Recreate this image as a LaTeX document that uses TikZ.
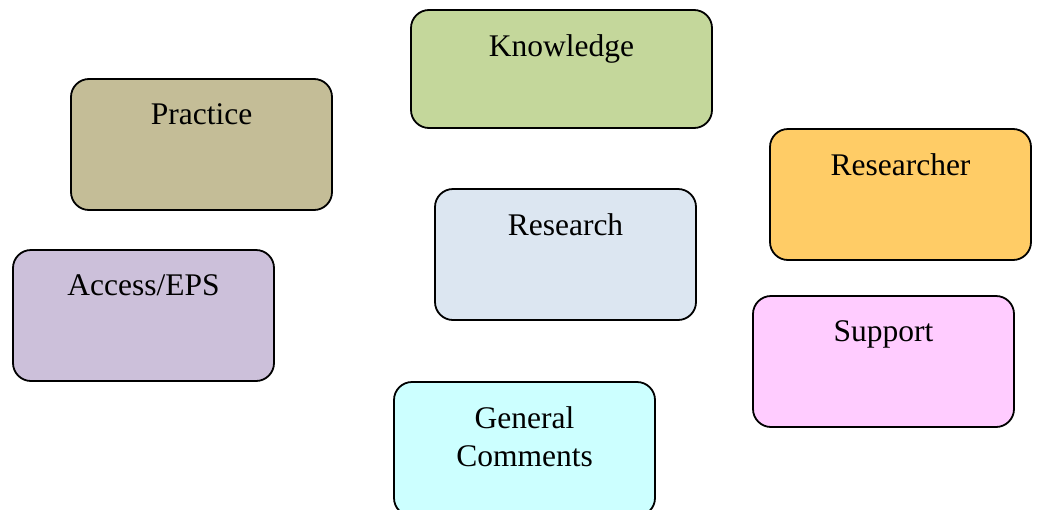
\documentclass[tikz,border=0pt]{standalone}
\usepackage{fontspec}
\setmainfont{Liberation Serif}
\usetikzlibrary{calc}
\definecolor{knowgreen}{HTML}{C4D79B}
\definecolor{practan}{HTML}{C4BD97}
\definecolor{resorange}{HTML}{FFCC66}
\definecolor{resblue}{HTML}{DCE6F1}
\definecolor{accpurple}{HTML}{CCC0DA}
\definecolor{suppink}{HTML}{FFCCFF}
\definecolor{gencyan}{HTML}{CCFFFF}
\begin{document}
\begin{tikzpicture}[x=1pt,y=-1pt]
       \tikzstyle{theme} = [rectangle, draw=black, line width=1.8pt, rounded corners=18pt, minimum width=261pt, minimum height=131pt, inner sep=0pt];
       \tikzstyle{title} = [anchor=north, inner sep=0pt, align=center, font=\fontsize{31.5}{38}\selectfont];
       \clip (0,0) rectangle (1038,509);
       % boxes
       \node[theme, fill=knowgreen, minimum width=301pt, minimum height=118pt](knowledge) at (561.5,69) {};
       \node[theme, fill=practan](practice) at (201.5,144.5) {};
       \node[theme, fill=resorange](researcher) at (900.5,194.5) {};
       \node[theme, fill=resblue](research) at (565.5,254.5) {};
       \node[theme, fill=accpurple](access) at (143.5,315.5) {};
       \node[theme, fill=suppink](support) at (883.5,361.5) {};
       \node[theme, fill=gencyan, minimum height=134pt](general) at (524.5,449) {};
       % titles
       \node[title](knowledge text) at ($(knowledge.north)+(0,25)$) {Knowledge};
       \node[title](practice text) at ($(practice.north)+(0,25)$) {Practice};
       \node[title](researcher text) at ($(researcher.north)+(0,25)$) {Researcher};
       \node[title](research text) at ($(research.north)+(0,25)$) {Research};
       \node[title](access text) at ($(access.north)+(0,25)$) {Access/EPS};
       \node[title](support text) at ($(support.north)+(0,25)$) {Support};
       \node[title](general text) at ($(general.north)+(0,25)$) {General\\Comments};
\end{tikzpicture}
\end{document}
